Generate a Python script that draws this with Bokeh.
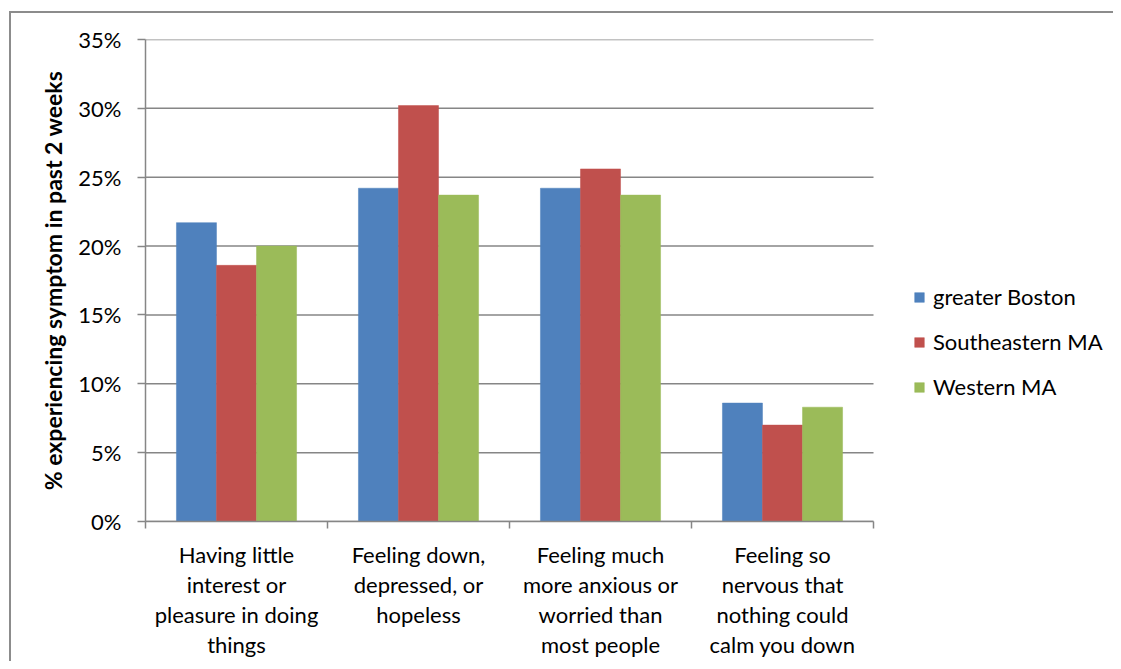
from bokeh.plotting import figure
from bokeh.models import (Range1d, FixedTicker, PrintfTickFormatter, Legend, LegendItem,
                          ColumnDataSource)
from bokeh.transform import dodge
from bokeh.embed import file_html
from bokeh.resources import INLINE

categories = [
    "Having little\ninterest or\npleasure in doing\nthings",
    "Feeling down,\ndepressed, or\nhopeless",
    "Feeling much\nmore anxious or\nworried than\nmost people",
    "Feeling so\nnervous that\nnothing could\ncalm you down",
]
series = ["greater Boston", "Southeastern MA", "Western MA"]
boston = [21.7, 24.2, 24.2, 8.6]
southeastern = [18.6, 30.2, 25.6, 7.0]
western = [20.0, 23.7, 23.7, 8.3]
y_ticks = [0, 5, 10, 15, 20, 25, 30, 35]
colors = ["#4F81BD", "#C0504D", "#9BBB59"]

FONT = "Lato"
FS = "22px"
n = len(categories)
centers = [i + 0.5 for i in range(n)]
bounds = [i for i in range(n + 1)]
source = ColumnDataSource(dict(x=centers, b=boston, s=southeastern, w=western))

W, H = 1113, 661
LEFT, TOP, BOTTOM = 145, 39, 140
PLOT_W = 728  # width of the bar area in pixels; remainder of the frame holds the legend
frame_w = W - LEFT

p = figure(width=W, height=H, output_backend="svg", toolbar_location=None,
           x_range=Range1d(0, n * frame_w / PLOT_W), y_range=Range1d(0, 35),
           min_border_left=LEFT, min_border_right=0, min_border_top=TOP, min_border_bottom=BOTTOM)
p.outline_line_color = None
p.background_fill_color = "white"
p.border_fill_color = None
p.styles = {
    "background": ("linear-gradient(#8c8c8c,#8c8c8c) 9px 11px / 2px 100% no-repeat, "
                   "linear-gradient(#8c8c8c,#8c8c8c) 9px 11px / 100% 2px no-repeat, white"),
}

# horizontal gridlines limited to the bar area
p.xgrid.grid_line_color = None
p.ygrid.grid_line_color = None
p.segment(x0=[0] * len(y_ticks), x1=[n] * len(y_ticks), y0=y_ticks, y1=y_ticks,
          line_color="#868686", line_width=1.5, level="underlay")

bw = 0.22
keys = ["b", "s", "w"]
offsets = [-bw, 0, bw]
renderers = []
for k, off, c in zip(keys, offsets, colors):
    r = p.vbar(x=dodge("x", off, range=p.x_range), top=k, bottom=0, width=bw, source=source,
               fill_color=c, line_color=c, line_width=0.5)
    renderers.append(r)

# x axis
xa = p.xaxis[0]
xa.bounds = (0, n)
xa.ticker = FixedTicker(ticks=centers, minor_ticks=bounds)
xa.major_label_overrides = {c: lab for c, lab in zip(centers, categories)}
xa.major_tick_out = 0
xa.major_tick_in = 0
xa.minor_tick_out = 7
xa.minor_tick_in = 0
xa.minor_tick_line_color = "#868686"
xa.minor_tick_line_width = 1.5
xa.axis_line_color = "#868686"
xa.axis_line_width = 1.5
xa.major_label_text_font = FONT
xa.major_label_text_font_size = FS
xa.major_label_text_color = "black"
xa.major_label_text_line_height = 1.12
xa.major_label_standoff = 12

# y axis
ya = p.yaxis[0]
ya.ticker = FixedTicker(ticks=y_ticks)
ya.formatter = PrintfTickFormatter(format="%d%%")
ya.major_tick_out = 8
ya.major_tick_in = 0
ya.minor_tick_line_color = None
ya.major_tick_line_color = "#868686"
ya.major_tick_line_width = 1.5
ya.axis_line_color = "#868686"
ya.axis_line_width = 1.5
ya.major_label_text_font = FONT
ya.major_label_text_font_size = FS
ya.major_label_text_color = "black"
ya.major_label_standoff = 16
ya.axis_label = "% experiencing symptom in past 2 weeks"
ya.axis_label_text_font = FONT
ya.axis_label_text_font_style = "bold"
ya.axis_label_text_font_size = "23px"
ya.axis_label_text_color = "black"
ya.axis_label_standoff = 8

legend = Legend(items=[LegendItem(label=s, renderers=[r]) for s, r in zip(series, renderers)],
                location=(768, 121), orientation="vertical",
                glyph_width=12, glyph_height=12, label_standoff=8,
                label_height=26, spacing=18, padding=0, margin=0,
                border_line_color=None, background_fill_alpha=0,
                label_text_font=FONT, label_text_font_size=FS, label_text_color="black")
p.add_layout(legend)

open("out.html", "w").write(file_html(p, INLINE))
